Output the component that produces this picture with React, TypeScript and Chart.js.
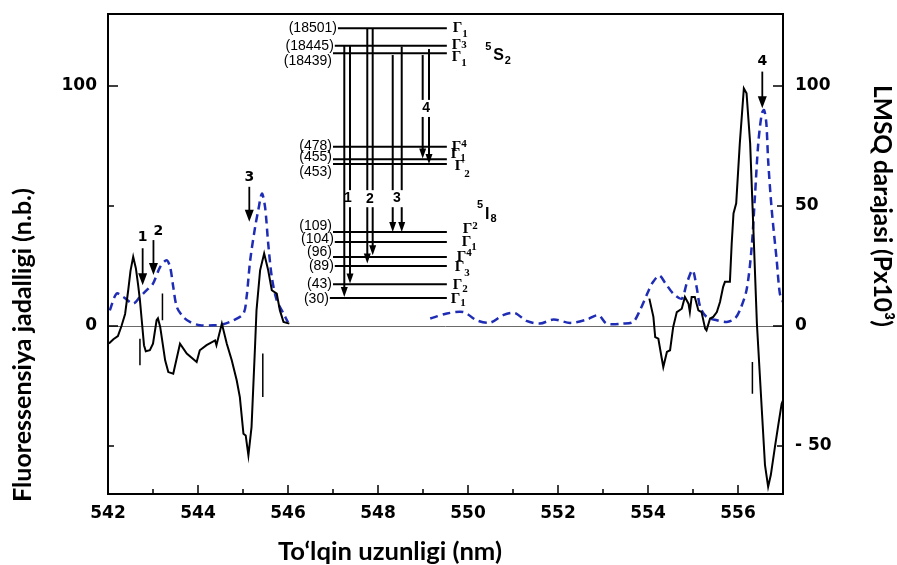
import React, { useEffect, useRef } from 'react';
import { Chart, registerables } from 'chart.js';

Chart.register(...registerables);

// ---------- axes ----------
const xMin = 542;
const xMax = 557;
const yMin = -70;
const yMax = 130;
const xMajorTicks = [542, 544, 546, 548, 550, 552, 554, 556];
const xMinorTicks = [543, 545, 547, 549, 551, 553, 555];
const yTickValues = [-50, 0, 50, 100];
const yMajorTicks = [0, 100];
const leftTickLabels = ['', '0', '', '100'];
const rightTickLabels = ['- 50', '0', '50', '100'];

const xTitle = 'To\u2018lqin uzunligi (nm)';
const yLeftTitle = 'Fluoressensiya jadalligi (n.b.)';
const yRightTitle = 'LMSQ darajasi (Px10\u00B3)';

// ---------- fluorescence (solid black) ----------
const fluorWl1 = [542.02, 542.12, 542.22, 542.3, 542.38, 542.45, 542.5, 542.56, 542.62, 542.67, 542.71, 542.75, 542.8, 542.84, 542.93, 543.0, 543.08, 543.11, 543.16, 543.27, 543.34, 543.45, 543.6, 543.75, 543.97, 544.04, 544.19, 544.38, 544.41, 544.53, 544.64, 544.75, 544.86, 544.93, 545.01, 545.06, 545.12, 545.19, 545.27, 545.3, 545.38, 545.47, 545.56, 545.64, 545.75, 545.82, 545.9, 546.03];
const fluorVal1 = [-7.3, -5.5, -4.2, 0, 5, 15, 23, 28.8, 24, 17, 10.7, 2.4, -8, -10.5, -10.1, -7.4, 2.4, 3.2, -0.4, -14.3, -19.2, -19.9, -7.4, -11.5, -15, -10.1, -8, -6, -8, 1, -7.4, -14.3, -22.6, -29.6, -44.9, -45.6, -53.9, -42, -7.4, 6.5, 23.2, 30.2, 23.2, 14.9, 13.5, 6.5, 1.7, 1];
const fluorWl2 = [554.03, 554.12, 554.16, 554.23, 554.3, 554.34, 554.42, 554.49, 554.56, 554.64, 554.75, 554.82, 554.9, 554.93, 554.97, 555.04, 555.12, 555.19, 555.27, 555.3, 555.38, 555.45, 555.53, 555.6, 555.67, 555.71, 555.82, 555.86, 555.9, 555.96, 556.04, 556.13, 556.19, 556.27, 556.34, 556.42, 556.53, 556.6, 556.67, 556.73, 556.82, 556.9, 556.97, 557.0];
const fluorVal2 = [11.4, 3.8, -4.6, -5.3, -12.9, -17.1, -10.8, -10.1, -0.4, 5.8, 7.2, 12.1, 9.3, 5.8, 12.1, 12.1, 6.5, 5.8, -1.1, -1.8, 3.1, 3.8, 5.8, 10, 16.3, 18.4, 18.4, 34.4, 46.9, 51.1, 76.1, 99, 97, 76.1, 41.3, 1, -35.2, -58, -67, -62, -50.5, -40.7, -32.4, -31];

// ---------- LMSQ (dashed blue) ----------
const lmsqWl1 = [542.04, 542.19, 542.34, 542.56, 542.71, 542.86, 543.0, 543.16, 543.3, 543.38, 543.45, 543.53, 543.67, 543.82, 544.04, 544.34, 544.56, 544.79, 545.01, 545.08, 545.16, 545.27, 545.34, 545.42, 545.49, 545.56, 545.64, 545.75, 545.9, 546.0];
const lmsqVal1 = [6.5, 13.5, 12.1, 9.3, 12.1, 14.9, 17.7, 24.6, 27.4, 24.6, 16.3, 7.9, 3.8, 1.7, 0.3, 0.3, 0.7, 2.4, 5.2, 12.1, 27.4, 41.3, 48.3, 55.2, 49.6, 34.4, 20.4, 10.7, 5.2, 1.5];
const lmsqWl2 = [549.16, 549.53, 549.9, 550.19, 550.49, 550.78, 551.04, 551.3, 551.6, 551.9, 552.27, 552.64, 552.9, 553.08, 553.45, 553.67, 553.82, 554.0, 554.1, 554.25, 554.38, 554.56, 554.75, 554.86, 554.99, 555.08, 555.16, 555.3, 555.53, 555.75, 555.93, 556.04, 556.19, 556.3, 556.38, 556.45, 556.53, 556.58, 556.63, 556.67, 556.75, 556.86, 556.93, 557.0];
const lmsqVal2 = [3.1, 5.2, 5.8, 2.4, 1.4, 4.5, 5.4, 2.1, 1, 2.7, 1.3, 2.7, 4.5, 1, 1, 1.7, 6.5, 14.2, 18, 21, 18, 13.5, 11.4, 17.7, 23.2, 16.3, 7.9, 3.8, 2.4, 1.7, 3.1, 6.5, 15, 32, 55.2, 76, 88.6, 90, 84.4, 69, 48.3, 27.4, 13.5, 10];

// ---------- annotations (data units) ----------
const specArrows = [
  { label: '1', x: 542.77, yFrom: 32.4, yTo: 17.0, lx: 542.77, ly: 36.8 },
  { label: '2', x: 543.01, yFrom: 35.8, yTo: 21.2, lx: 543.12, ly: 39.4 },
  { label: '3', x: 545.14, yFrom: 58.0, yTo: 43.4, lx: 545.14, ly: 61.8 },
  { label: '4', x: 556.54, yFrom: 106.0, yTo: 90.7, lx: 556.54, ly: 110.4 },
];
const specBars = [
  { x: 543.21, y1: 13.5, y2: 2.4 },
  { x: 542.71, y1: -5.3, y2: -16.4 },
  { x: 545.44, y1: -11.5, y2: -29.6 },
  { x: 556.32, y1: -15, y2: -28.2 },
];

const levelEnd = 549.53;
const energyLevels = [
  { label: '(18501)', y: 124.1, x0: 547.11, ldy: 0, g: '1', gdx: 6, gdy: 0, sdy: 6 },
  { label: '(18445)', y: 116.8, x0: 547.04, ldy: 0, g: '3', gdx: 5, gdy: -1, sdy: 0 },
  { label: '(18439)', y: 113.6, x0: 547.0, ldy: 8, g: '1', gdx: 5, gdy: 4, sdy: 6 },
  { label: '(478)', y: 74.7, x0: 547.0, ldy: -1, g: '4', gdx: 5, gdy: 0, sdy: -3 },
  { label: '(455)', y: 69.5, x0: 547.0, ldy: -2, g: '1', gdx: 4, gdy: -5, sdy: 4 },
  { label: '(453)', y: 67.5, x0: 547.0, ldy: 8, g: '2', gdx: 8, gdy: 2, sdy: 8 },
  { label: '(109)', y: 39.2, x0: 547.0, ldy: -6, g: '2', gdx: 16, gdy: -3, sdy: -3 },
  { label: '(104)', y: 35.0, x0: 547.04, ldy: -3, g: '1', gdx: 15, gdy: 0, sdy: 5 },
  { label: '(96)', y: 28.8, x0: 547.0, ldy: -5, g: '4', gdx: 10, gdy: 0, sdy: -4 },
  { label: '(89)', y: 25.0, x0: 547.04, ldy: 0, g: '3', gdx: 8, gdy: 1, sdy: 6 },
  { label: '(43)', y: 17.4, x0: 547.0, ldy: 0, g: '2', gdx: 6, gdy: 1, sdy: 4 },
  { label: '(30)', y: 11.7, x0: 546.93, ldy: 1, g: '1', gdx: 4, gdy: 1, sdy: 4 },
];
// transitions: each line x, start y, tip y, optional gap [top, bottom]
const transitions = [
  { x: 547.251, y1: 116.8, y2: 12.1, gap: null },
  { x: 547.378, y1: 116.8, y2: 17.7, gap: [56.6, 49.5] },
  { x: 547.762, y1: 124.1, y2: 26.0, gap: [56.6, 49.5] },
  { x: 547.882, y1: 124.1, y2: 29.5, gap: [56.6, 49.5] },
  { x: 548.327, y1: 112.9, y2: 39.2, gap: [56.6, 49.5] },
  { x: 548.527, y1: 116.4, y2: 39.2, gap: [56.6, 49.5] },
  { x: 548.993, y1: 112.9, y2: 69.8, gap: [94.2, 87.1] },
  { x: 549.133, y1: 115.4, y2: 67.5, gap: [94.2, 87.1] },
];
const transitionLabels = [
  { label: '1', x: 547.33, y: 53.2 },
  { label: '2', x: 547.82, y: 52.9 },
  { label: '3', x: 548.42, y: 53.2 },
  { label: '4', x: 549.07, y: 90.8 },
];
const termLabels = [
  { sup: '5', main: 'S', sub: '2', x: 550.56, y: 112.5 },
  { sup: '5', main: 'I', sub: '8', x: 550.38, y: 46.6 },
];

const zip = (xs: number[], ys: number[]) => xs.map((x, i) => ({ x, y: ys[i] }));
const fluorData = [...zip(fluorWl1, fluorVal1), { x: 550, y: null }, ...zip(fluorWl2, fluorVal2)];
const lmsqData = [...zip(lmsqWl1, lmsqVal1), { x: 547.5, y: null }, ...zip(lmsqWl2, lmsqVal2)];

function fitFont(ctx: CanvasRenderingContext2D, text: string, weight: string, family: string, target: number) {
  ctx.font = `${weight} 20px ${family}`;
  const w = ctx.measureText(text).width;
  return `${weight} ${(20 * target) / w}px ${family}`;
}

function arrowDown(ctx: CanvasRenderingContext2D, x: number, yTop: number, yTip: number, headLen: number, headHalf: number) {
  ctx.beginPath();
  ctx.moveTo(x, yTop);
  ctx.lineTo(x, yTip - headLen + 1);
  ctx.stroke();
  ctx.beginPath();
  ctx.moveTo(x - headHalf, yTip - headLen);
  ctx.lineTo(x + headHalf, yTip - headLen);
  ctx.lineTo(x, yTip);
  ctx.closePath();
  ctx.fill();
}

const decorPlugin = {
  id: 'decor',
  beforeDatasetsDraw(chart: any) {
    const { ctx, chartArea: a, scales } = chart;
    const y0 = Math.round(scales.y.getPixelForValue(0)) + 0.5;
    ctx.save();
    ctx.strokeStyle = '#6a6a6a';
    ctx.lineWidth = 1;
    ctx.beginPath();
    ctx.moveTo(a.left, y0);
    ctx.lineTo(a.right, y0);
    ctx.stroke();
    ctx.restore();
  },
  afterDraw(chart: any) {
    const { ctx, chartArea: a, scales } = chart;
    const X = (v: number) => scales.x.getPixelForValue(v);
    const Y = (v: number) => scales.y.getPixelForValue(v);
    ctx.save();
    ctx.strokeStyle = '#000';
    ctx.fillStyle = '#000';

    // frame
    ctx.lineWidth = 2;
    ctx.strokeRect(a.left, a.top, a.right - a.left, a.bottom - a.top);

    // inward ticks
    ctx.lineWidth = 1.5;
    ctx.beginPath();
    xMajorTicks.forEach((v) => { const px = X(v); ctx.moveTo(px, a.bottom); ctx.lineTo(px, a.bottom - 9); });
    xMinorTicks.forEach((v) => { const px = X(v); ctx.moveTo(px, a.bottom); ctx.lineTo(px, a.bottom - 5); });
    yTickValues.forEach((v) => {
      const py = Y(v);
      const len = yMajorTicks.includes(v) ? 10 : 6;
      ctx.moveTo(a.left, py); ctx.lineTo(a.left + len, py);
      ctx.moveTo(a.right, py); ctx.lineTo(a.right - len, py);
    });
    ctx.stroke();

    // spectrum bars
    ctx.lineWidth = 1.5;
    ctx.beginPath();
    specBars.forEach((b) => { ctx.moveTo(X(b.x), Y(b.y1)); ctx.lineTo(X(b.x), Y(b.y2)); });
    ctx.stroke();

    // spectrum arrows
    ctx.lineWidth = 1.8;
    ctx.font = 'bold 14px "DejaVu Sans"';
    ctx.textAlign = 'center';
    ctx.textBaseline = 'middle';
    specArrows.forEach((s) => {
      arrowDown(ctx, X(s.x), Y(s.yFrom), Y(s.yTo), 12, 4.5);
      ctx.fillText(s.label, X(s.lx), Y(s.ly));
    });

    // energy levels
    ctx.lineWidth = 2;
    energyLevels.forEach((l) => {
      const py = Y(l.y);
      ctx.beginPath();
      ctx.moveTo(X(l.x0), py);
      ctx.lineTo(X(levelEnd), py);
      ctx.stroke();
      ctx.font = '14px "Liberation Sans"';
      ctx.textAlign = 'right';
      ctx.textBaseline = 'middle';
      ctx.fillText(l.label, X(l.x0) - 1, py + l.ldy);
      const gx = X(levelEnd) + l.gdx;
      const gy = py + l.gdy;
      ctx.textAlign = 'left';
      ctx.font = 'bold 15px "Liberation Serif"';
      ctx.fillText('\u0393', gx, gy);
      ctx.font = 'bold 11px "Liberation Serif"';
      ctx.fillText(l.g, gx + 9.5, gy + l.sdy);
    });

    // transitions
    ctx.lineWidth = 2;
    transitions.forEach((t) => {
      const x = X(t.x);
      if (t.gap) {
        ctx.beginPath();
        ctx.moveTo(x, Y(t.y1));
        ctx.lineTo(x, Y(t.gap[0]));
        ctx.stroke();
        arrowDown(ctx, x, Y(t.gap[1]), Y(t.y2), 10, 3.5);
      } else {
        arrowDown(ctx, x, Y(t.y1), Y(t.y2), 10, 3.5);
      }
    });
    ctx.font = 'bold 14px "Liberation Sans"';
    ctx.textAlign = 'center';
    ctx.textBaseline = 'middle';
    transitionLabels.forEach((t) => ctx.fillText(t.label, X(t.x), Y(t.y)));

    // term symbols
    termLabels.forEach((t) => {
      const x = X(t.x);
      const y = Y(t.y);
      ctx.textAlign = 'left';
      ctx.font = 'bold 11px "Liberation Sans"';
      ctx.fillText(t.sup, x - 8, y - 9);
      ctx.font = 'bold 16px "Liberation Sans"';
      ctx.fillText(t.main, x, y);
      const w = ctx.measureText(t.main).width;
      ctx.font = 'bold 11px "Liberation Sans"';
      ctx.fillText(t.sub, x + w + 1, y + 5);
    });

    // axis titles
    ctx.textAlign = 'center';
    ctx.textBaseline = 'alphabetic';
    ctx.font = fitFont(ctx, xTitle, 'bold', 'Lato', 224);
    ctx.fillText(xTitle, 390, 560);

    ctx.save();
    ctx.translate(31, 345);
    ctx.rotate(-Math.PI / 2);
    ctx.font = fitFont(ctx, yLeftTitle, 'bold', 'Lato', 314);
    ctx.fillText(yLeftTitle, 0, 0);
    ctx.restore();

    ctx.save();
    ctx.translate(874, 206);
    ctx.rotate(Math.PI / 2);
    ctx.font = fitFont(ctx, yRightTitle, 'bold', 'Lato', 242);
    ctx.fillText(yRightTitle, 0, 0);
    ctx.restore();

    ctx.restore();
  },
};

const tickFont = { family: '"DejaVu Sans"', weight: 'bold' as const, size: 17 };
const zeroPad = (s: any) => { s.paddingTop = 0; s.paddingBottom = 0; s.paddingLeft = 0; s.paddingRight = 0; };

export default function App() {
  const ref = useRef<HTMLCanvasElement | null>(null);
  useEffect(() => {
    if (!ref.current) return;
    const chart = new Chart(ref.current, {
      type: 'line',
      data: {
        datasets: [
          {
            data: fluorData as any,
            borderColor: '#000',
            borderWidth: 2,
            pointRadius: 0,
            tension: 0,
            spanGaps: false,
            yAxisID: 'y',
          },
          {
            data: lmsqData as any,
            borderColor: '#1f2db5',
            borderWidth: 2.5,
            borderDash: [8, 5],
            pointRadius: 0,
            tension: 0.3,
            spanGaps: false,
            yAxisID: 'y2',
          },
        ],
      },
      options: {
        responsive: false,
        animation: false,
        devicePixelRatio: 1,
        layout: { padding: { top: 14, left: 0, right: 0, bottom: 0 } },
        plugins: { legend: { display: false }, tooltip: { enabled: false } },
        scales: {
          x: {
            type: 'linear',
            min: xMin,
            max: xMax,
            position: 'bottom',
            grid: { display: false, drawTicks: false },
            border: { display: false },
            afterBuildTicks: (s: any) => { s.ticks = xMajorTicks.map((v) => ({ value: v })); },
            afterFit: (s: any) => { s.height = 71; zeroPad(s); },
            ticks: { autoSkip: false, maxRotation: 0, padding: 9, color: '#000', font: tickFont, callback: (v: any) => String(v) },
          },
          y: {
            type: 'linear',
            min: yMin,
            max: yMax,
            position: 'left',
            grid: { display: false, drawTicks: false },
            border: { display: false },
            afterBuildTicks: (s: any) => { s.ticks = yTickValues.map((v) => ({ value: v })); },
            afterFit: (s: any) => { s.width = 108; zeroPad(s); },
            ticks: { autoSkip: false, padding: 11, color: '#000', font: tickFont, callback: (v: any) => leftTickLabels[yTickValues.indexOf(Number(v))] ?? '' },
          },
          y2: {
            type: 'linear',
            min: yMin,
            max: yMax,
            position: 'right',
            grid: { display: false, drawTicks: false },
            border: { display: false },
            afterBuildTicks: (s: any) => { s.ticks = yTickValues.map((v) => ({ value: v })); },
            afterFit: (s: any) => { s.width = 114; zeroPad(s); },
            ticks: { autoSkip: false, padding: 12, color: '#000', font: tickFont, callback: (v: any) => rightTickLabels[yTickValues.indexOf(Number(v))] ?? '' },
          },
        },
      },
      plugins: [decorPlugin],
    });
    return () => chart.destroy();
  }, []);
  return (
    <div style={{ position: 'fixed', left: 0, top: 0, width: 897, height: 565, background: '#fff' }}>
      <canvas ref={ref} width={897} height={565} style={{ width: 897, height: 565, display: 'block' }} />
    </div>
  );
}
